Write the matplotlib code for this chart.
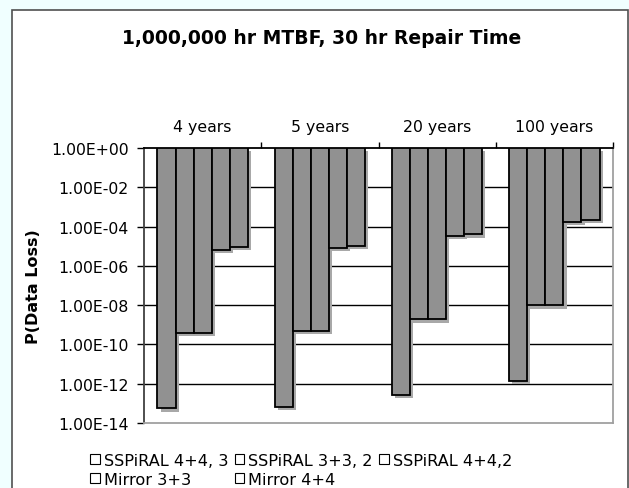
import matplotlib
matplotlib.use("Agg")
import matplotlib.pyplot as plt
import matplotlib.patheffects as pe
from matplotlib.patches import Patch, Rectangle
import numpy as np

categories = ["4 years", "5 years", "20 years", "100 years"]
series_names = ["SSPiRAL 4+4, 3", "SSPiRAL 3+3, 2", "SSPiRAL 4+4,2", "Mirror 3+3", "Mirror 4+4"]
sspiral_44_3 = [5.6e-14, 6.7e-14, 2.6e-13, 1.4e-12]
sspiral_33_2 = [3.8e-10, 4.7e-10, 1.9e-9, 9.8e-9]
sspiral_44_2 = [3.8e-10, 4.7e-10, 1.9e-9, 9.8e-9]
mirror_33 = [6.6e-6, 8.5e-6, 3.3e-5, 1.65e-4]
mirror_44 = [8.8e-6, 1.07e-5, 4.0e-5, 2.1e-4]
all_series = [sspiral_44_3, sspiral_33_2, sspiral_44_2, mirror_33, mirror_44]
yticks = [1e0, 1e-2, 1e-4, 1e-6, 1e-8, 1e-10, 1e-12, 1e-14]
ytick_labels = ["1.00E+00", "1.00E-02", "1.00E-04", "1.00E-06",
                "1.00E-08", "1.00E-10", "1.00E-12", "1.00E-14"]

W, H = 629, 489
fig = plt.figure(figsize=(W / 100, H / 100), dpi=100)
fig.patch.set_facecolor("#f0ffff")

# white chart area with dark frame
fig.patches.append(Rectangle((12 / W, -0.01), 616 / W, 1.01 - 11 / H, transform=fig.transFigure,
                             facecolor="white", edgecolor="#505050", lw=1.2, zorder=-5))

ax = fig.add_axes([144 / W, 1 - 424 / H, (613 - 144) / W, (424 - 149) / H])
ax.set_facecolor("white")
ax.set_yscale("log")
ax.set_ylim(1e-14, 1)
ax.set_xlim(-0.5, 3.5)

x = np.arange(len(categories))
w = 0.154
shadow = [pe.SimplePatchShadow(offset=(2.3, -2.3), shadow_rgbFace="#a8a8a8", alpha=1.0), pe.Normal()]
for i, vals in enumerate(all_series):
    vals = np.array(vals)
    ax.bar(x + (i - 2) * w, vals - 1, bottom=1, width=w, color="#919191",
           edgecolor="black", lw=1.3, zorder=3, path_effects=shadow)

# gridlines
ax.hlines(yticks[1:-1], -0.5, 3.5, colors="black", lw=1, zorder=1)

ax.set_yticks(yticks)
ax.set_yticklabels(ytick_labels)
ax.yaxis.set_minor_locator(matplotlib.ticker.NullLocator())
ax.tick_params(axis="y", direction="out", length=5, width=1, colors="black",
               labelsize=11.3, pad=6)

ax.xaxis.tick_top()
ax.set_xticks([0.5, 1.5, 2.5, 3.5])
ax.set_xticklabels([])
ax.set_xticks(x, categories, minor=True)
ax.tick_params(axis="x", which="major", direction="out", length=4, width=1, top=True, bottom=False)
ax.tick_params(axis="x", which="minor", length=0, top=True, bottom=False,
               labeltop=True, labelbottom=False, labelsize=11.3, pad=10)

ax.spines["top"].set_color("black")
ax.spines["left"].set_color("#404040")
ax.spines["right"].set_color("#a0a0a0")
ax.spines["bottom"].set_color("#a0a0a0")
for s in ax.spines.values():
    s.set_linewidth(1.3)

fig.text(0.512, 1 - 38 / H, "1,000,000 hr MTBF, 30 hr Repair Time",
         ha="center", va="center", fontsize=13.5, fontweight="bold")
fig.text(33 / W, 1 - 287 / H, "P(Data Loss)", rotation=90, ha="center", va="center",
         fontsize=11.5, fontweight="bold")

handles = [Patch(facecolor="white", edgecolor="black", lw=0.8) for _ in series_names]
order = [0, 3, 1, 4, 2]
fig.legend([handles[k] for k in order], [series_names[k] for k in order],
           ncol=3, loc="upper left", bbox_to_anchor=(82 / W, 1 - 446 / H),
           frameon=False, fontsize=11.6, handlelength=0.6, handleheight=0.6,
           handletextpad=0.25, columnspacing=0.4, labelspacing=0.22, borderpad=0)

fig.savefig("out.png", dpi=100, facecolor=fig.get_facecolor())
